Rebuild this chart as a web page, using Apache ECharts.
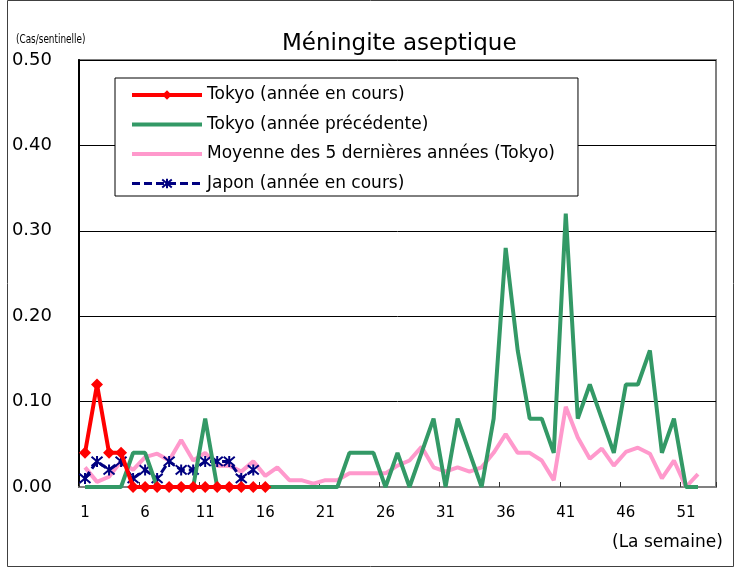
<!DOCTYPE html>
<html>
<head>
<meta charset="utf-8">
<script src="https://cdn.jsdelivr.net/npm/echarts@6/dist/echarts.min.js"></script>
<style>
  html, body { margin: 0; padding: 0; background: #fff; }
  #chart { width: 736px; height: 569px; }
</style>
</head>
<body>
<div id="chart"></div>
<script>
// semaines 1..53
var weeks = [];
for (var w = 1; w <= 53; w++) weeks.push(String(w));

// Tokyo (année en cours)
var tokyoCurrent = [0.04, 0.12, 0.04, 0.04, 0, 0, 0, 0, 0, 0, 0, 0, 0, 0, 0, 0];

// Tokyo (année précédente)
var tokyoPrevious = [
  0, 0, 0, 0, 0.04, 0.04, 0, 0, 0, 0,
  0.08, 0, 0, 0, 0, 0, 0, 0, 0, 0,
  0, 0, 0.04, 0.04, 0.04, 0, 0.04, 0, 0.04, 0.08,
  0, 0.08, 0.04, 0, 0.08, 0.28, 0.16, 0.08, 0.08, 0.04,
  0.32, 0.08, 0.12, 0.08, 0.04, 0.12, 0.12, 0.16, 0.04, 0.08,
  0, 0
];

// Moyenne des 5 dernières années (Tokyo)
var tokyoAvg5 = [
  0.023, 0.006, 0.012, 0.03, 0.02, 0.035, 0.039, 0.031, 0.055, 0.031,
  0.04, 0.025, 0.025, 0.018, 0.03, 0.013, 0.023, 0.008, 0.008, 0.004,
  0.008, 0.008, 0.016, 0.016, 0.016, 0.016, 0.025, 0.031, 0.047, 0.023,
  0.018, 0.023, 0.018, 0.023, 0.04, 0.062, 0.04, 0.04, 0.031, 0.008,
  0.094, 0.058, 0.033, 0.045, 0.025, 0.041, 0.046, 0.039, 0.01, 0.031,
  0, 0.015
];

// Japon (année en cours)
var japanCurrent = [0.01, 0.03, 0.02, 0.03, 0.01, 0.02, 0.01, 0.03, 0.02, 0.02, 0.03, 0.03, 0.03, 0.01, 0.02];

var yTicks = [0, 0.1, 0.2, 0.3, 0.4, 0.5];

var FONT = "DejaVu Sans";
var starPath = "path://M0,0L10,10M10,0L0,10M5,-1L5,11";

var chart = echarts.init(document.getElementById("chart"));
chart.setOption({
  animation: false,
  backgroundColor: "#fff",
  textStyle: { fontFamily: FONT, color: "#000" },
  title: {
    text: "Méningite aseptique",
    left: 282,
    top: 33,
    padding: 0,
    textStyle: { fontFamily: FONT, fontSize: 23, fontWeight: "normal", color: "#000" }
  },
  legend: {
    orient: "vertical",
    left: 115,
    top: 78,
    padding: [8.5, 23, 4, 15],
    itemGap: 12.5,
    itemWidth: 70,
    itemHeight: 12,
    backgroundColor: "#fff",
    borderColor: "#000",
    borderWidth: 1,
    borderRadius: 0,
    textStyle: { fontFamily: FONT, fontSize: 17, color: "#000" },
    data: [
      { name: "Tokyo (année en cours)", lineStyle: { width: 4 } },
      { name: "Tokyo (année précédente)", lineStyle: { width: 4 }, itemStyle: { opacity: 0 } },
      { name: "Moyenne des 5 dernières années (Tokyo)", lineStyle: { width: 4 }, itemStyle: { opacity: 0 } },
      { name: "Japon (année en cours)", lineStyle: { width: 3 } }
    ]
  },
  grid: {
    left: 79,
    right: 20,
    top: 60,
    bottom: 82,
    show: true,
    borderColor: "#808080",
    borderWidth: 2,
    backgroundColor: "#fff"
  },
  xAxis: {
    type: "category",
    data: weeks,
    boundaryGap: true,
    axisLine: { lineStyle: { color: "#808080", width: 2 } },
    axisTick: { show: true, inside: true, length: 5, interval: 4, lineStyle: { color: "#333" } },
    axisLabel: { interval: 4, margin: 19, fontFamily: FONT, fontSize: 15, color: "#000" },
    splitLine: { show: false }
  },
  yAxis: {
    type: "value",
    min: yTicks[0],
    max: yTicks[yTicks.length - 1],
    interval: 0.1,
    axisLine: { show: true, lineStyle: { color: "#000", width: 2 } },
    axisTick: { show: false },
    axisLabel: {
      margin: 27,
      fontFamily: FONT,
      fontSize: 18,
      color: "#000",
      formatter: function (v) { return v.toFixed(2); }
    },
    splitLine: { show: true, lineStyle: { color: "#000", width: 1 } }
  },
  series: [
    {
      name: "Moyenne des 5 dernières années (Tokyo)",
      type: "line",
      data: tokyoAvg5,
      symbol: "none",
      z: 2,
      itemStyle: { color: "#ff99cc" },
      lineStyle: { color: "#ff99cc", width: 4 }
    },
    {
      name: "Japon (année en cours)",
      type: "line",
      data: japanCurrent,
      symbol: starPath,
      symbolSize: 11,
      showAllSymbol: true,
      z: 3,
      itemStyle: { color: "#000080", borderColor: "#000080", borderWidth: 2 },
      lineStyle: { color: "#000080", width: 3, type: [8, 4] }
    },
    {
      name: "Tokyo (année précédente)",
      type: "line",
      data: tokyoPrevious,
      symbol: "none",
      z: 4,
      itemStyle: { color: "#339966" },
      lineStyle: { color: "#339966", width: 4 }
    },
    {
      name: "Tokyo (année en cours)",
      type: "line",
      data: tokyoCurrent,
      symbol: "diamond",
      symbolSize: 12,
      showAllSymbol: true,
      z: 5,
      itemStyle: { color: "#ff0000" },
      lineStyle: { color: "#ff0000", width: 4 }
    }
  ],
  graphic: [
    {
      type: "rect",
      silent: true,
      z: -1,
      shape: { x: 7.5, y: 0.5, width: 726, height: 566 },
      style: { fill: null, stroke: "#404040", lineWidth: 1 }
    },
    {
      type: "text",
      x: 16,
      y: 33,
      scaleX: 0.76,
      style: {
        text: "(Cas/sentinelle)",
        font: "13px 'Liberation Sans Narrow', 'DejaVu Sans Condensed', sans-serif",
        fill: "#000"
      }
    },
    {
      type: "text",
      left: 612,
      top: 534,
      style: {
        text: "(La semaine)",
        font: "17px 'DejaVu Sans'",
        fill: "#000"
      }
    }
  ]
});
</script>
</body>
</html>
